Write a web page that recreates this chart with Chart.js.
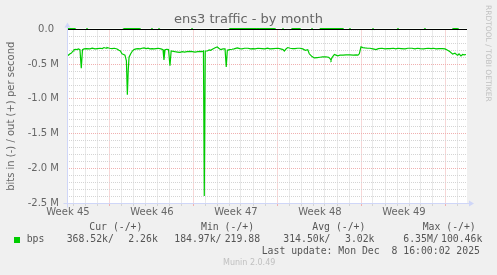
<!DOCTYPE html>
<html>
<head>
<meta charset="utf-8">
<script src="https://cdn.jsdelivr.net/npm/chart.js@4.4.0/dist/chart.umd.min.js"></script>
<style>
  body { margin: 0; background: #f0f0f0; }
  #wrap { position: relative; width: 497px; height: 275px; overflow: hidden; }
  .t { position: absolute; white-space: pre; line-height: 1; color: #666666; }
  .mono { font-family: "DejaVu Sans Mono", monospace; font-size: 9.8px; color: #555555; }
</style>
</head>
<body>
<div id="wrap">
  <canvas id="munin" width="497" height="275"></canvas>
</div>
<script>
// x values are days since the left edge of the graph (1 day = 12 px in the original)
var spanDays = 400 / 12;

var weekLabels = ['Week 45', 'Week 46', 'Week 47', 'Week 48', 'Week 49'];
var weekLabelDays = [0.08, 7.08, 14.08, 21.08, 28.08];
var weekGridDays = [3.5, 10.5, 17.5, 24.5, 31.5];

var yTickValues = [0, -0.5, -1.0, -1.5, -2.0, -2.5];   // M bits
var yTickLabels = ['0.0\u2002', '-0.5 M', '-1.0 M', '-1.5 M', '-2.0 M', '-2.5 M'];

// bits in (shown negative), Mbit/s
var inDays = [0.00, 0.12, 0.25, 0.37, 0.50, 0.58, 0.70, 0.83, 0.95, 1.08, 1.19, 1.29, 1.42, 1.60, 1.92,
  2.10, 2.33, 2.55, 2.75, 2.95, 3.08, 3.25, 3.33, 3.55, 3.75, 3.95, 4.17, 4.33, 4.45, 4.58, 4.72, 4.83,
  4.95, 5.03, 5.10, 5.17, 5.31, 5.45, 5.58, 5.75, 5.92, 6.10, 6.25, 6.42, 6.60, 6.75, 6.92, 7.10, 7.25,
  7.42, 7.60, 7.83, 8.00, 8.08, 8.17, 8.30, 8.46, 8.58, 8.68, 8.85, 9.00, 9.20, 9.42, 9.60, 9.80, 10.00,
  10.25, 10.45, 10.67, 10.90, 11.10, 11.25, 11.37, 11.44, 11.52, 11.69, 11.85, 11.97, 12.15, 12.39, 12.52,
  12.65, 12.81, 13.00, 13.17, 13.27, 13.36, 13.55, 13.75, 13.92, 14.19, 14.40, 14.58, 14.80, 15.08, 15.30,
  15.50, 15.67, 15.90, 16.25, 16.50, 16.70, 16.92, 17.20, 17.58, 17.80, 18.00, 18.11, 18.25, 18.39, 18.60,
  18.80, 19.00, 19.20, 19.42, 19.65, 19.86, 20.06, 20.19, 20.30, 20.42, 20.61, 20.85, 21.08, 21.30, 21.58,
  21.80, 21.92, 22.00, 22.10, 22.28, 22.42, 22.56, 22.75, 23.00, 23.25, 23.58, 23.85, 24.10, 24.25, 24.36,
  24.50, 24.65, 24.83, 25.05, 25.25, 25.50, 25.75, 25.95, 26.25, 26.50, 26.70, 26.92, 27.20, 27.40, 27.58,
  27.85, 28.17, 28.40, 28.75, 29.00, 29.20, 29.42, 29.70, 30.08, 30.35, 30.55, 30.75, 31.00, 31.31, 31.50,
  31.72, 31.92, 32.14, 32.33, 32.45, 32.56, 32.67, 32.83, 32.97, 33.10, 33.25];
var inMbit = [0.36, 0.37, 0.35, 0.34, 0.31, 0.29, 0.285, 0.29, 0.28, 0.29, 0.556, 0.29, 0.28, 0.275, 0.28,
  0.27, 0.28, 0.275, 0.27, 0.275, 0.26, 0.27, 0.26, 0.27, 0.275, 0.27, 0.28, 0.30, 0.31, 0.35, 0.36, 0.37,
  0.45, 0.94, 0.60, 0.40, 0.35, 0.31, 0.29, 0.28, 0.275, 0.28, 0.27, 0.265, 0.275, 0.27, 0.28, 0.275, 0.28,
  0.275, 0.27, 0.28, 0.29, 0.44, 0.29, 0.285, 0.29, 0.52, 0.31, 0.315, 0.32, 0.325, 0.33, 0.32, 0.325, 0.32,
  0.315, 0.32, 0.325, 0.32, 0.315, 0.32, 0.31, 2.40, 0.31, 0.31, 0.295, 0.30, 0.28, 0.26, 0.25,
  0.27, 0.29, 0.28, 0.28, 0.54, 0.30, 0.29, 0.285, 0.28, 0.265, 0.275, 0.28, 0.27, 0.27, 0.28,
  0.275, 0.28, 0.27, 0.275, 0.28, 0.27, 0.28, 0.275, 0.27, 0.28, 0.29, 0.31, 0.28, 0.26, 0.27,
  0.275, 0.275, 0.27, 0.27, 0.28, 0.30, 0.29, 0.35, 0.37, 0.39, 0.41, 0.405, 0.40, 0.395, 0.395,
  0.40, 0.42, 0.44, 0.40, 0.36, 0.37, 0.38, 0.37, 0.37, 0.365, 0.365, 0.37, 0.365, 0.37, 0.35,
  0.25, 0.26, 0.265, 0.27, 0.27, 0.28, 0.29, 0.275, 0.27, 0.28, 0.275, 0.275, 0.27, 0.28, 0.27,
  0.275, 0.28, 0.27, 0.27, 0.28, 0.27, 0.275, 0.28, 0.27, 0.275, 0.27, 0.28, 0.275, 0.275, 0.28,
  0.30, 0.32, 0.355, 0.34, 0.36, 0.37, 0.35, 0.38, 0.36, 0.365, 0.36];

// bits out (shown positive), kbit/s
var outDays = [0, 0.67, 0.8, 1.55, 1.67, 1.8, 4.6, 4.75, 6.08, 6.2, 6.95, 7.08, 7.2, 7.55, 7.67, 7.8,
  10.3, 10.42, 10.55, 13.45, 13.58, 15.83, 16.08, 17.33, 17.45, 17.9, 18.0, 18.1, 18.65, 18.75, 19.42,
  19.55, 20.3, 20.42, 20.55, 21.0, 21.08, 23.0, 23.12, 23.45, 23.58, 23.7, 25.4, 25.5, 25.6, 27.45, 27.58,
  27.7, 29.7, 29.83, 29.95, 32.05, 32.17, 32.58, 32.7, 33.33];
var outKbit = [14, 14, 0.3, 0.3, 15, 0.3, 0.3, 14, 14, 0.3, 0.3, 15, 0.3, 0.3, 14, 0.3,
  0.3, 15, 0.3, 0.3, 14, 14, 14, 14, 0.3, 0.3, 15, 0.3, 0.3, 14, 14,
  0.3, 0.3, 15, 0.3, 0.3, 14, 14, 0.3, 0.3, 15, 0.3, 0.3, 15, 0.3, 0.3, 15,
  0.3, 0.3, 15, 0.3, 0.3, 14, 14, 0.3, 0.3];

var green = '#00cc00';
var axisColor = '#cfd6f8';
var minorGrid = '#d4d4d4';
var majorGrid = '#f0b0b0';

var inPoints = inDays.map((d, i) => ({ x: d, y: -inMbit[i] * 1e6 }));
var outPoints = outDays.map((d, i) => ({ x: d, y: outKbit[i] * 1e3 }));

// minor grid every day (on the half day), major at week boundaries, labels at week starts
var xTicks = [];
for (var d = 0.5; d < spanDays; d += 1) {
  xTicks.push({ value: d, kind: weekGridDays.indexOf(d) >= 0 ? 'major' : 'minor' });
}
weekLabelDays.forEach((d, i) => xTicks.push({ value: d, kind: 'label', text: weekLabels[i] }));

var yTicks = [];
for (var k = 0; k <= 25; k++) {
  var v = -k * 0.1;
  var idx = k % 5 == 0 ? k / 5 : -1;
  yTicks.push({ value: v * 1e6, kind: idx >= 0 ? 'major' : 'minor', text: idx >= 0 ? yTickLabels[idx] : '' });
}

// white canvas, axes and arrows like rrdtool
const munimFrame = {
  id: 'munimFrame',
  beforeDraw(chart) {
    const a = chart.chartArea, c = chart.ctx;
    c.save();
    c.fillStyle = '#ffffff';
    c.fillRect(a.left, Math.floor(a.top) - 1, a.right - a.left, a.bottom - a.top + 2);
    c.restore();
  },
  afterDatasetsDraw(chart) {
    const a = chart.chartArea, c = chart.ctx;
    const x0 = Math.round(a.left) + 0.5, y0 = Math.round(a.bottom) + 0.5;
    c.save();
    c.strokeStyle = axisColor;
    c.lineWidth = 1;
    c.beginPath();
    c.moveTo(x0 - 4, y0); c.lineTo(a.right + 4, y0);
    c.moveTo(x0, y0 + 4); c.lineTo(x0, a.top - 4);
    c.stroke();
    c.fillStyle = axisColor;
    c.beginPath();
    c.moveTo(a.right + 2, y0 - 3); c.lineTo(a.right + 2, y0 + 3); c.lineTo(a.right + 7, y0);
    c.closePath(); c.fill();
    c.beginPath();
    c.moveTo(x0 - 3, a.top - 2); c.lineTo(x0 + 3, a.top - 2); c.lineTo(x0, a.top - 7);
    c.closePath(); c.fill();
    c.restore();
  }
};

const chart = new Chart(document.getElementById('munin').getContext('2d'), {
  type: 'line',
  data: {
    datasets: [
      {
        label: 'zero',
        data: [{ x: 0, y: 0 }, { x: spanDays, y: 0 }],
        borderColor: '#000000',
        borderWidth: 1,
        pointRadius: 0,
        clip: 2,
      },
      {
        label: 'out',
        data: outPoints,
        borderColor: green,
        borderWidth: 1,
        pointRadius: 0,
        tension: 0,
        clip: { left: 0, top: 4, right: 0, bottom: 0 },
      },
      {
        label: 'in',
        data: inPoints,
        borderColor: green,
        borderWidth: 1.2,
        pointRadius: 0,
        tension: 0,
      },
    ],
  },
  options: {
    responsive: false,
    animation: false,
    devicePixelRatio: 1,
    layout: { padding: { top: 29.5, right: 30, bottom: 56, left: 0 } },
    plugins: { legend: { display: false }, tooltip: { enabled: false } },
    scales: {
      x: {
        type: 'linear',
        min: 0,
        max: spanDays,
        afterFit: (s) => { s.height = 16; },
        afterBuildTicks: (s) => { s.ticks = xTicks.map(t => Object.assign({}, t)); },
        ticks: {
          autoSkip: false,
          maxRotation: 0,
          minRotation: 0,
          padding: 0,
          color: '#666666',
          font: { family: 'DejaVu Sans', size: 10 },
          callback: function (value, index, ticks) { return ticks[index].text || ''; },
        },
        grid: {
          color: (ctx) => ctx.tick && ctx.tick.kind == 'major' ? majorGrid : (ctx.tick && ctx.tick.kind == 'minor' ? minorGrid : 'rgba(0,0,0,0)'),
          tickColor: (ctx) => ctx.tick && ctx.tick.kind == 'major' ? majorGrid : (ctx.tick && ctx.tick.kind == 'minor' ? minorGrid : 'rgba(0,0,0,0)'),
          tickLength: 3,
          lineWidth: 1,
        },
        border: { display: false, dash: [1, 1] },
      },
      y: {
        type: 'linear',
        min: -2.5e6,
        max: 0,
        afterFit: (s) => { s.width = 67; },
        afterBuildTicks: (s) => { s.ticks = yTicks.map(t => Object.assign({}, t)); },
        ticks: {
          autoSkip: false,
          padding: 8,
          color: '#666666',
          font: { family: 'DejaVu Sans', size: 10 },
          callback: function (value, index, ticks) { return ticks[index].text; },
        },
        grid: {
          color: (ctx) => ctx.tick && ctx.tick.kind == 'major' ? majorGrid : minorGrid,
          drawTicks: false,
          lineWidth: 1,
        },
        border: { display: false, dash: [1, 1] },
        title: {
          display: true,
          text: 'bits in (-) / out (+) per second',
          color: '#666666',
          font: { family: 'DejaVu Sans', size: 10 },
          padding: { top: 5, bottom: 0 },
        },
      },
    },
  },
  plugins: [munimFrame],
});

// title, legend and watermarks as text on top of the canvas
var wrap = document.getElementById('wrap');
function addText(txt, left, top, cls, extra) {
  var el = document.createElement('div');
  el.className = 't ' + (cls || '');
  el.textContent = txt;
  el.style.left = left + 'px';
  el.style.top = top + 'px';
  if (extra) Object.assign(el.style, extra);
  wrap.appendChild(el);
  return el;
}

addText('ens3 traffic - by month', 0, 12, '', { width: '497px', textAlign: 'center', fontFamily: 'DejaVu Sans', fontSize: '13px' });
addText('RRDTOOL / TOBI OETIKER', 484, 5, '', { writingMode: 'vertical-rl', fontFamily: 'DejaVu Sans', fontSize: '7.5px', color: '#c0c0c0' });

var legendHeads = ['Cur (-/+)', 'Min (-/+)', 'Avg (-/+)', 'Max (-/+)'];
var legendHeadX = [89.3, 201, 312.3, 422.7];
var legendCells = ['bps', '368.52k/', '2.26k', '184.97k/', '219.88', '314.50k/', '3.02k', '6.35M/', '100.46k'];
var legendCellX = [26.7, 66.7, 128.3, 174.3, 224.7, 283.3, 345, 403.3, 441];

legendHeads.forEach((h, i) => addText(h, legendHeadX[i], 221.7, 'mono'));
legendCells.forEach((c, i) => addText(c, legendCellX[i], 234.4, 'mono'));
addText('Last update: Mon Dec  8 16:00:02 2025', 261.7, 246, 'mono');
addText('Munin 2.0.49', 223, 259.2, '', { fontFamily: 'DejaVu Sans', fontSize: '8px', color: '#c0c0c0' });

var box = document.createElement('div');
box.style.cssText = 'position:absolute;left:14px;top:237px;width:6px;height:6px;background:' + green + ';';
wrap.appendChild(box);
</script>
</body>
</html>
